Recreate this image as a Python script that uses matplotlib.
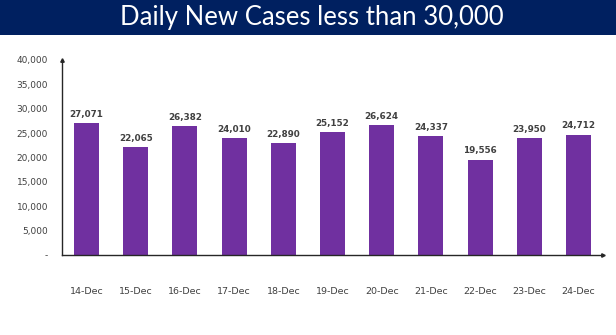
import matplotlib.pyplot as plt
from matplotlib.patches import Rectangle

dates = ["14-Dec", "15-Dec", "16-Dec", "17-Dec", "18-Dec", "19-Dec",
         "20-Dec", "21-Dec", "22-Dec", "23-Dec", "24-Dec"]
cases = [27071, 22065, 26382, 24010, 22890, 25152,
         26624, 24337, 19556, 23950, 24712]
yticks = [0, 5000, 10000, 15000, 20000, 25000, 30000, 35000, 40000]
ytick_labels = ["-", "5,000", "10,000", "15,000", "20,000", "25,000",
                "30,000", "35,000", "40,000"]

PURPLE = "#7030A0"
NAVY = "#002060"
GRIS = "#404040"

fig = plt.figure(figsize=(6.16, 3.35), dpi=100)
fig.patch.set_facecolor("white")

# franja del titulo
fig.patches.append(Rectangle((0, 1 - 35 / 335), 1, 35 / 335, transform=fig.transFigure,
                             facecolor=NAVY, edgecolor="none", zorder=0))
fig.text(0.507, 1 - 18 / 335, "Daily New Cases less than 30,000", color="white",
         fontsize=18.5, family="Lato", ha="center", va="center")

ax = fig.add_axes([62 / 616, 1 - 255 / 335, (603 - 62) / 616, 195 / 335])
x = range(len(dates))
barras = ax.bar(x, cases, width=0.51, color=PURPLE, zorder=2)

for xi, v in zip(x, cases):
    ax.text(xi, v + 900, f"{v:,}", ha="center", va="bottom", fontsize=6.3,
            fontweight="bold", color=GRIS)

ax.set_xlim(-0.5, 10.5)
ax.set_ylim(0, 40000)
ax.set_yticks(yticks)
ax.set_yticklabels(ytick_labels)
ax.set_xticks(list(x))
ax.set_xticklabels(dates)
ax.tick_params(axis="y", length=0, labelsize=6.5, labelcolor=GRIS, pad=10)
ax.tick_params(axis="x", length=0, labelsize=6.8, labelcolor=GRIS, pad=23)

for s in ["top", "right"]:
    ax.spines[s].set_visible(False)
for s in ["left", "bottom"]:
    ax.spines[s].set_color("#262626")
    ax.spines[s].set_linewidth(1.0)

# flechas en los ejes
ax.plot(0, 1, "^", color="#262626", markersize=2.5, transform=ax.transAxes, clip_on=False)
ax.plot(1, 0, ">", color="#262626", markersize=2.5, transform=ax.transAxes, clip_on=False)

fig.savefig("out.png", dpi=100)
